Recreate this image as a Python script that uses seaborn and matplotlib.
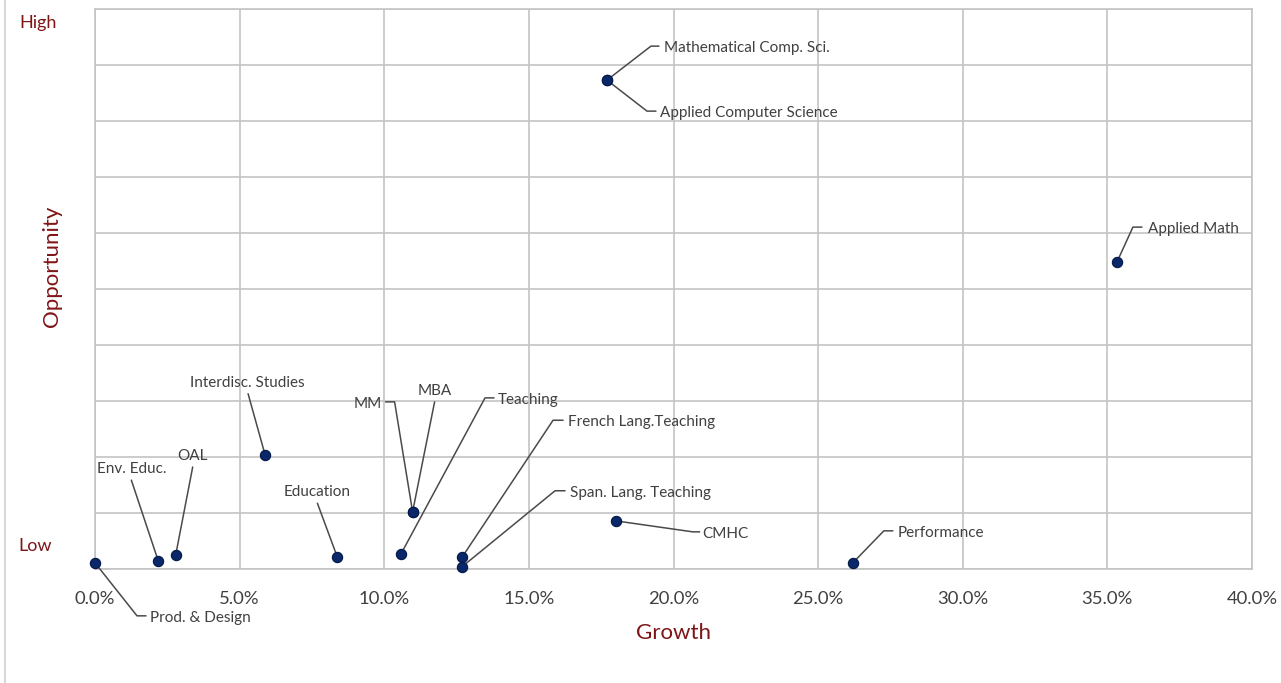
import matplotlib
matplotlib.use("Agg")
import matplotlib.pyplot as plt
from matplotlib.lines import Line2D
from matplotlib.transforms import IdentityTransform
from matplotlib.ticker import MultipleLocator, PercentFormatter
import pandas as pd
import seaborn as sns

# Programs plotted by growth (%) and opportunity (relative scale 0-10)
programs = [
    "Prod. & Design", "Env. Educ.", "OAL", "Interdisc. Studies", "Education",
    "MM", "MBA", "Teaching", "French Lang.Teaching", "Span. Lang. Teaching",
    "CMHC", "Performance", "Applied Math", "Mathematical Comp. Sci.",
    "Applied Computer Science",
]
growth = [0.0, 2.19, 2.79, 5.88, 8.38, 10.98, 10.98, 10.58, 12.69, 12.69,
          18.0, 26.2, 35.33, 17.7, 17.7]
opportunity = [0.11, 0.14, 0.25, 2.04, 0.21, 1.02, 1.02, 0.27, 0.21, 0.04,
               0.86, 0.11, 5.48, 8.73, 8.73]

x_ticks = [0, 5, 10, 15, 20, 25, 30, 35, 40]

# Leader-line layout per label, in pixel offsets from the marker (x right, y down):
# (elbow, stub end or None, text anchor, horizontal alignment)
leader_layout = [
    ((42, 53), (51, 53), (55, 53), "left"),
    ((-27, -81), None, (-27, -94), "center"),
    ((17, -88), None, (17, -101), "center"),
    ((-17, -61), None, (-18, -74), "center"),
    ((-20, -54), None, (-20, -67), "center"),
    ((-18, -110), (-27, -110), (-31, -110), "right"),
    ((22, -110), None, (22, -123), "center"),
    ((84, -156), (93, -156), (97, -156), "left"),
    ((91, -137), (101, -137), (106, -137), "left"),
    ((93, -76), (103, -76), (108, -76), "left"),
    ((77, 11), (84, 11), (87, 11), "left"),
    ((31, -32), (40, -32), (45, -32), "left"),
    ((16, -35), (25, -35), (31, -35), "left"),
    ((44, -34), (52, -34), (57, -34), "left"),
    ((40, 31), (49, 31), (53, 31), "left"),
]

sns.set_theme(style="whitegrid")
plt.rcParams["font.family"] = ["Lato", "DejaVu Sans"]

W, H = 1281, 683
fig = plt.figure(figsize=(W / 100, H / 100), dpi=100)
ax = fig.add_axes([95 / W, 1 - 569 / H, (1252 - 95) / W, (569 - 9) / H])

df = pd.DataFrame({"program": programs, "growth": growth, "opportunity": opportunity})

grid_col = "#C4C4C4"
dark_red = "#7F1517"
text_col = "#404040"

sns.scatterplot(
    data=df, x="growth", y="opportunity", ax=ax, s=55,
    color="#0A2769", edgecolor="#021847", linewidth=0.8, zorder=5, clip_on=False,
)

ax.set_xlim(0, 40)
ax.set_ylim(0, 10)
ax.set_xticks(x_ticks)
ax.xaxis.set_major_formatter(PercentFormatter(decimals=1))
ax.yaxis.set_major_locator(MultipleLocator(1))
ax.set_yticklabels([])
ax.tick_params(axis="x", length=0, pad=16, labelsize=13.3, labelcolor=text_col)
ax.tick_params(axis="y", length=0)
ax.grid(True, color=grid_col, linewidth=1.2)
for sp in ax.spines.values():
    sp.set_color(grid_col)
    sp.set_linewidth(1.2)

ax.set_xlabel("Growth", fontsize=16, color=dark_red, labelpad=11.5)
ax.set_ylabel("")
fig.text(52 / W, 1 - 266 / H, "Opportunity", rotation=90, fontsize=16,
         color=dark_red, ha="center", va="center")
fig.text(38 / W, 1 - 23 / H, "High", fontsize=13, color=dark_red, ha="center", va="center")
fig.text(35 / W, 1 - 546 / H, "Low", fontsize=13, color=dark_red, ha="center", va="center")

# thin frame line on the left edge of the figure
fig.add_artist(Line2D([4.5 / W, 4.5 / W], [0, 1], color="#CFCFCF", linewidth=1.2))

# leader lines and labels, laid out in pixel space
ident = IdentityTransform()
text_nudge = 2  # px, brings the text's visual centre onto the stub line
for name, gx, gy, (elbow, stub, anchor, ha) in zip(programs, growth, opportunity, leader_layout):
    px, py = ax.transData.transform((gx, gy))
    xs = [px, px + elbow[0]]
    ys = [py, py - elbow[1]]
    if stub is not None:
        xs.append(px + stub[0])
        ys.append(py - stub[1])
    ax.add_line(Line2D(xs, ys, transform=ident, color="#4A4A4A", linewidth=1.1,
                       clip_on=False, zorder=4))
    ax.text(px + anchor[0], py - anchor[1] - text_nudge, name, transform=ident,
            fontsize=11, color=text_col, ha=ha, va="center", clip_on=False, zorder=6)

fig.savefig("out.png", dpi=100, facecolor="white")
